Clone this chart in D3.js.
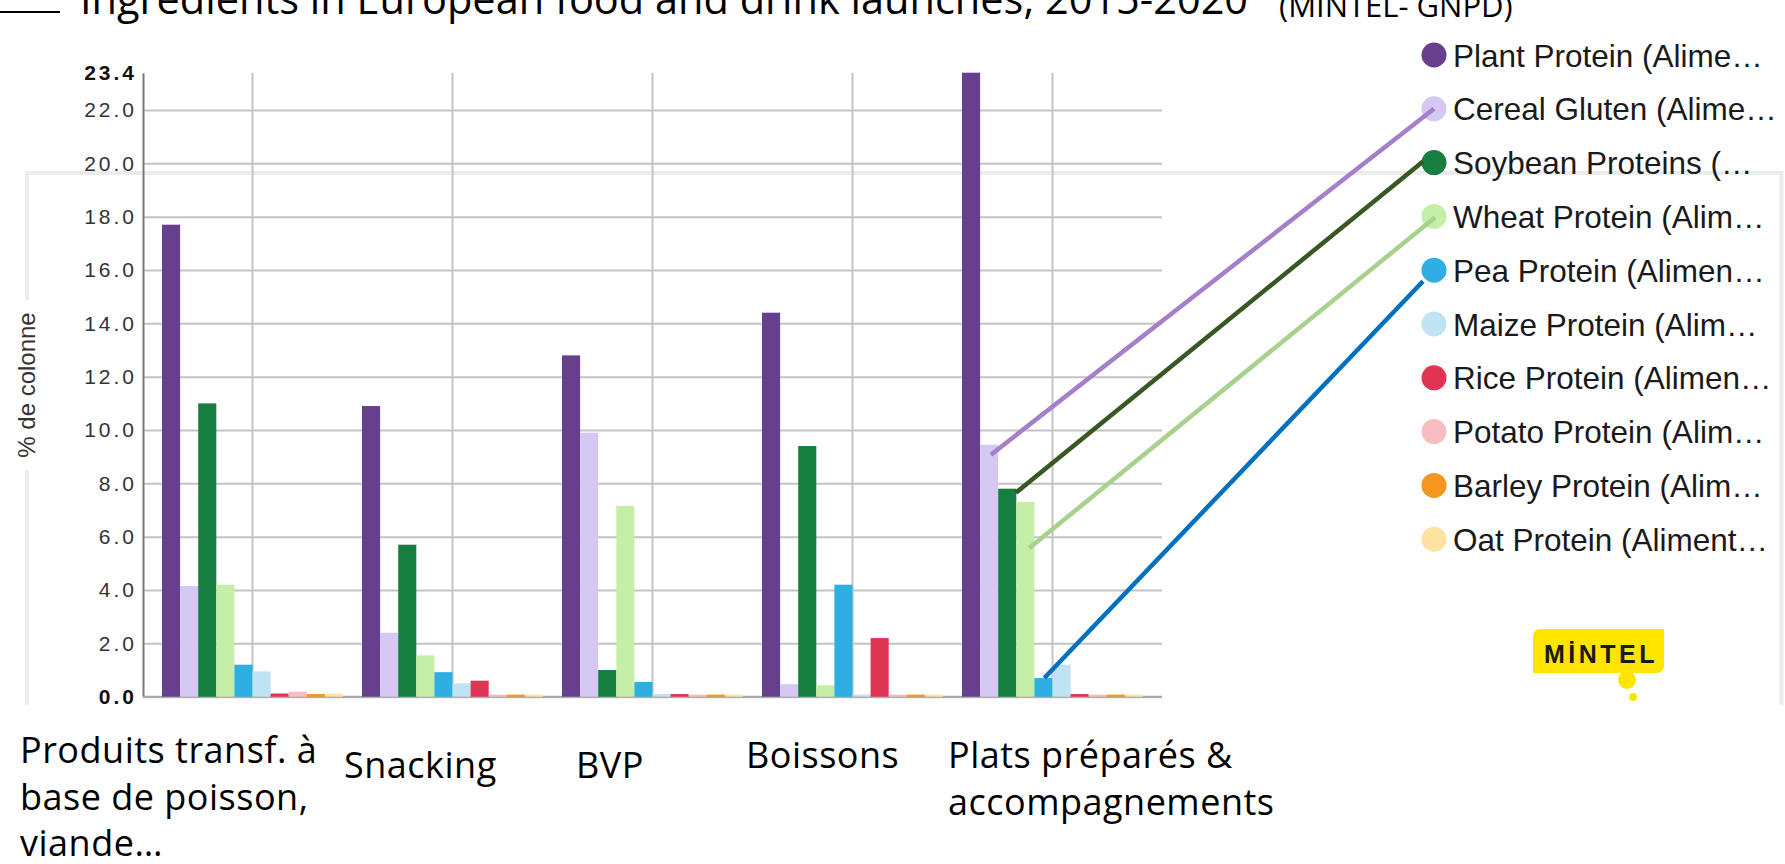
<!DOCTYPE html>
<html>
<head>
<meta charset="utf-8">
<script src="https://cdn.jsdelivr.net/npm/d3@7"></script>
<style>
  html, body { margin: 0; padding: 0; background: #fff; }
  svg { display: block; }
</style>
</head>
<body>
<svg id="chart" width="1785" height="864"></svg>
<script>
// ---- data ----
const categories = [
  "Produits transf. à base de poisson, viande…",
  "Snacking",
  "BVP",
  "Boissons",
  "Plats préparés & accompagnements"
];
const categoryLabelLines = [
  ["Produits transf. à", "base de poisson,", "viande…"],
  ["Snacking"],
  ["BVP"],
  ["Boissons"],
  ["Plats préparés &", "accompagnements"]
];
const seriesNames = [
  "Plant Protein", "Cereal Gluten", "Soybean Proteins", "Wheat Protein", "Pea Protein",
  "Maize Protein", "Rice Protein", "Potato Protein", "Barley Protein", "Oat Protein"
];
const legendLabels = [
  "Plant Protein (Alime…", "Cereal Gluten (Alime…", "Soybean Proteins (…", "Wheat Protein (Alim…",
  "Pea Protein (Alimen…", "Maize Protein (Alim…", "Rice Protein (Alimen…", "Potato Protein (Alim…",
  "Barley Protein (Alim…", "Oat Protein (Aliment…"
];
// % de colonne, one value per category
const plantProtein    = [17.7, 10.9, 12.8, 14.4, 23.4];
const cerealGluten    = [4.15, 2.4, 9.9, 0.47, 9.45];
const soybeanProteins = [11.0, 5.7, 1.0, 9.4, 7.8];
const wheatProtein    = [4.2, 1.55, 7.15, 0.43, 7.3];
const peaProtein      = [1.2, 0.92, 0.55, 4.2, 0.7];
const maizeProtein    = [0.95, 0.5, 0.1, 0.08, 1.2];
const riceProtein     = [0.12, 0.6, 0.1, 2.2, 0.1];
const potatoProtein   = [0.19, 0.08, 0.08, 0.08, 0.08];
const barleyProtein   = [0.1, 0.08, 0.08, 0.08, 0.08];
const oatProtein      = [0.11, 0.08, 0.08, 0.08, 0.08];
const seriesValues = [plantProtein, cerealGluten, soybeanProteins, wheatProtein, peaProtein,
                      maizeProtein, riceProtein, potatoProtein, barleyProtein, oatProtein];
const yMax = 23.4;
const gridTicks = [0, 2, 4, 6, 8, 10, 12, 14, 16, 18, 20, 22];
const yTickValues = gridTicks.concat([yMax]);

// ---- styles ----
const seriesColors = ["#673f8e", "#d5c8f3", "#167f3f", "#c5eea7", "#2eaee2",
                      "#bfe3f2", "#df3552", "#f9bcc1", "#f5961f", "#fde3a2"];
const plot = { left: 143, right: 1162, top: 72.7, bottom: 696.7 };

const svg = d3.select("#chart");

// ---- scales ----
const y = d3.scaleLinear().domain([0, yMax]).range([plot.bottom, plot.top]);
const x0 = d3.scaleBand().domain(categories).range([plot.left, plot.right])
  .paddingInner(0.095).paddingOuter(0.095);
const x1 = d3.scaleBand().domain(seriesNames).range([0, x0.bandwidth()]);

// ---- light frame behind the chart ----
svg.append("path")
  .attr("d", "M27,705 V173 H1781.5 V705")
  .attr("fill", "none").attr("stroke", "#ececec").attr("stroke-width", 4);

// ---- title strip ----
svg.append("line").attr("x1", 0).attr("x2", 60).attr("y1", 12).attr("y2", 12)
  .attr("stroke", "#000").attr("stroke-width", 2);
svg.append("text")
  .attr("x", 80).attr("y", 14)
  .attr("font-family", "'Open Sans', sans-serif").attr("font-size", 41.5).attr("fill", "#000")
  .text("Ingredients in European food and drink launches, 2015-2020");
svg.append("text")
  .attr("x", 1279).attr("y", 17)
  .attr("font-family", "'Open Sans', sans-serif").attr("font-size", 31).attr("fill", "#000")
  .text("(MINTEL- GNPD)");

// ---- y axis title ----
svg.append("rect").attr("x", 12).attr("y", 300).attr("width", 28).attr("height", 170).attr("fill", "#fff");
svg.append("text")
  .attr("transform", "translate(35,385) rotate(-90)")
  .attr("text-anchor", "middle")
  .attr("font-family", "'Liberation Sans', Arial, sans-serif").attr("font-size", 24).attr("fill", "#333")
  .text("% de colonne");

// ---- gridlines ----
const hGrid = svg.append("g").attr("transform", `translate(${plot.left},0)`)
  .call(d3.axisLeft(y).tickValues(gridTicks).tickSize(-(plot.right - plot.left)).tickFormat(""));
hGrid.select(".domain").remove();
hGrid.selectAll(".tick line").attr("stroke", "#c3c3c3").attr("stroke-width", 2);

const vGrid = svg.append("g").attr("transform", `translate(0,${plot.bottom})`)
  .call(d3.axisBottom(x0).tickSize(-(plot.bottom - plot.top)).tickFormat(""));
vGrid.select(".domain").remove();
vGrid.selectAll(".tick line").attr("stroke", "#c3c3c3").attr("stroke-width", 2);

// ---- y axis labels ----
const yAxis = svg.append("g").attr("transform", `translate(${plot.left},0)`)
  .call(d3.axisLeft(y).tickValues(yTickValues).tickSize(0).tickPadding(6).tickFormat(d3.format(".1f")));
yAxis.select(".domain").attr("stroke", "#7a7a7a").attr("stroke-width", 2);
yAxis.selectAll(".tick text")
  .attr("font-family", "'Liberation Sans', Arial, sans-serif")
  .attr("font-size", 21)
  .attr("letter-spacing", "3px")
  .attr("fill", d => (d === 0 || d === yMax) ? "#111" : "#333")
  .attr("font-weight", d => (d === 0 || d === yMax) ? "bold" : "normal");

// baseline
svg.append("line").attr("x1", plot.left).attr("x2", plot.right)
  .attr("y1", y(0)).attr("y2", y(0)).attr("stroke", "#a8a8a8").attr("stroke-width", 2);

// ---- bars ----
const groups = svg.append("g").selectAll("g").data(categories).join("g")
  .attr("transform", d => `translate(${x0(d)},0)`);
groups.selectAll("rect")
  .data((c, ci) => seriesNames.map((s, si) => ({ s, si, v: seriesValues[si][ci] })))
  .join("rect")
  .attr("x", d => x1(d.s))
  .attr("width", x1.bandwidth())
  .attr("y", d => y(d.v))
  .attr("height", d => y(0) - y(d.v))
  .attr("fill", d => seriesColors[d.si]);

// ---- legend ----
const legend = { x: 1434, y: 55, step: 53.8, r: 12.5 };
const legendY = i => legend.y + i * legend.step;
const lg = svg.append("g").selectAll("g").data(legendLabels).join("g")
  .attr("transform", (d, i) => `translate(${legend.x},${legendY(i)})`);
lg.append("circle").attr("r", legend.r).attr("fill", (d, i) => seriesColors[i]);
lg.append("text").attr("x", 19).attr("y", 11.5)
  .attr("font-family", "'Liberation Sans', Arial, sans-serif").attr("font-size", 31.5).attr("fill", "#1a1a1a")
  .text(d => d);

// ---- connectors from the "Plats préparés" bars to the legend ----
const connectors = [
  { series: "Cereal Gluten",    color: "#a67fca", fx: 0.6,  dy: 10, ex: 0,   ey: 0 },
  { series: "Soybean Proteins", color: "#385723", fx: 0.98, dy: 4,  ex: -11, ey: -1 },
  { series: "Wheat Protein",    color: "#a9d18e", fx: 0.72, dy: 46, ex: 1,   ey: 1 },
  { series: "Pea Protein",      color: "#0070c0", fx: 0.55, dy: 0,  ex: -11, ey: 11 }
];
const lastIndex = categories.length - 1;
const lastCat = categories[lastIndex];
connectors.forEach(c => {
  const si = seriesNames.indexOf(c.series);
  const v = seriesValues[si][lastIndex];
  const sx = x0(lastCat) + x1(c.series) + c.fx * x1.bandwidth();
  const sy = y(v) + c.dy;
  svg.append("line")
    .attr("x1", sx).attr("y1", sy)
    .attr("x2", legend.x + c.ex).attr("y2", legendY(si) + c.ey)
    .attr("stroke", c.color).attr("stroke-width", 4.5);
});

// ---- category labels ----
const labelLayout = [
  { x: 20,  y: 763 },
  { x: 344, y: 778 },
  { x: 576, y: 778 },
  { x: 746, y: 768 },
  { x: 948, y: 768 }
];
categoryLabelLines.forEach((lines, i) => {
  const t = svg.append("text")
    .attr("font-family", "'Open Sans', sans-serif").attr("font-size", 36)
    .attr("letter-spacing", "0.5px").attr("fill", "#000");
  lines.forEach((ln, k) => {
    t.append("tspan").attr("x", labelLayout[i].x).attr("y", labelLayout[i].y + k * 46.5).text(ln);
  });
});

// ---- Mintel logo ----
const logo = svg.append("g");
logo.append("path")
  .attr("d", "M1533,637 Q1533,629 1541,629 H1664 V665 Q1664,673 1656,673 H1533 Z")
  .attr("fill", "#fde500");
logo.append("circle").attr("cx", 1627).attr("cy", 680).attr("r", 9).attr("fill", "#fde500");
logo.append("circle").attr("cx", 1633).attr("cy", 697).attr("r", 4).attr("fill", "#fde500");
logo.append("text").attr("x", 1544).attr("y", 663)
  .attr("font-family", "'Liberation Sans', Arial, sans-serif").attr("font-weight", "bold")
  .attr("font-size", 25).attr("letter-spacing", "3.5px").attr("fill", "#1a1a1a")
  .text("MİNTEL");
</script>
</body>
</html>
